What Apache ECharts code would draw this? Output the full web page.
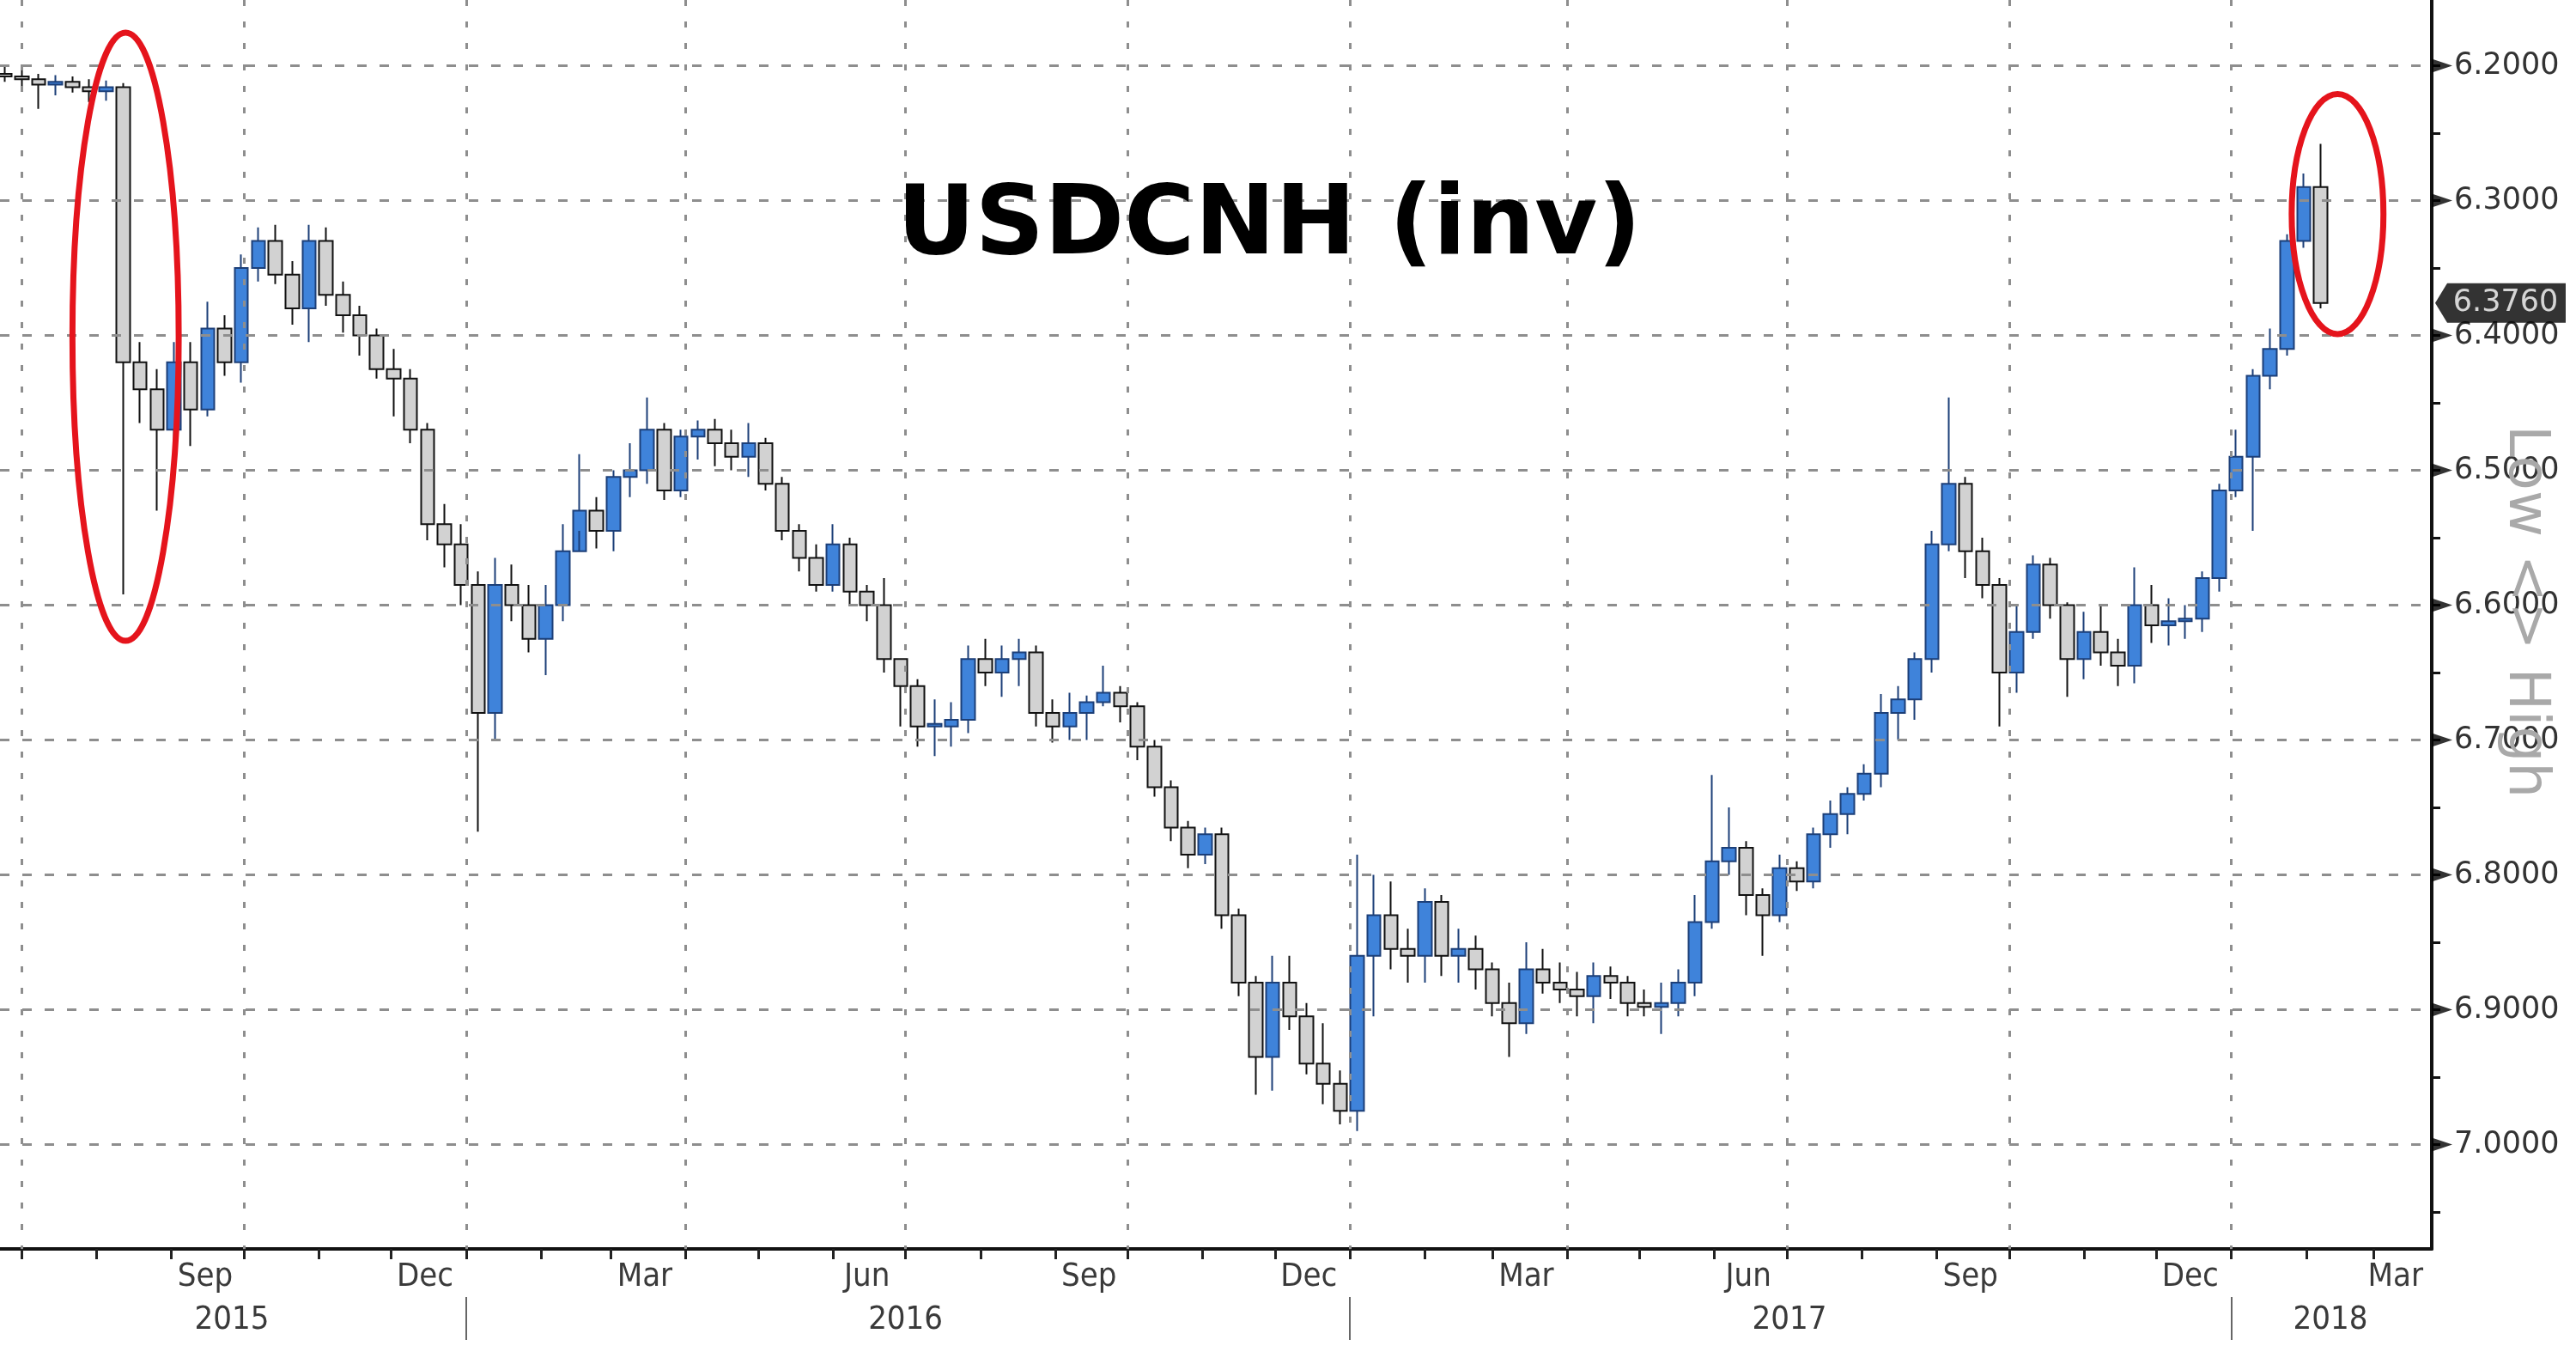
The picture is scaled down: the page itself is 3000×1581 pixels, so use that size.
<!DOCTYPE html>
<html><head><meta charset="utf-8">
<script src="https://cdn.jsdelivr.net/npm/echarts@6/dist/echarts.min.js"></script>
<style>html,body{margin:0;padding:0;background:#fff}#c{width:3000px;height:1581px}</style>
</head><body><div id="c"></div>
<script>
// ---- data (USDCNH weekly OHLC, weeks starting Monday) ----
const firstWeekMonday = '2015-06-22';
const weekOpen = [6.206,6.208,6.210,6.214,6.212,6.216,6.219,6.216,6.420,6.440,
6.470,6.420,6.455,6.395,6.420,6.350,6.330,6.355,6.380,6.330,
6.370,6.385,6.400,6.425,6.432,6.470,6.540,6.555,6.585,6.680,
6.585,6.600,6.625,6.600,6.560,6.530,6.545,6.505,6.500,6.470,
6.515,6.475,6.470,6.480,6.490,6.480,6.510,6.545,6.565,6.585,
6.555,6.590,6.600,6.640,6.660,6.690,6.690,6.685,6.640,6.650,
6.640,6.635,6.680,6.690,6.680,6.672,6.665,6.675,6.705,6.735,
6.765,6.785,6.770,6.830,6.880,6.935,6.880,6.905,6.940,6.955,
6.975,6.860,6.830,6.855,6.860,6.820,6.860,6.855,6.870,6.895,
6.910,6.870,6.880,6.885,6.890,6.875,6.880,6.895,6.898,6.895,
6.880,6.835,6.790,6.780,6.815,6.830,6.795,6.805,6.770,6.755,
6.740,6.725,6.680,6.670,6.640,6.555,6.510,6.560,6.585,6.650,
6.620,6.570,6.600,6.640,6.620,6.635,6.645,6.600,6.615,6.612,
6.610,6.580,6.515,6.490,6.430,6.410,6.330,6.290];
const weekClose = [6.208,6.210,6.214,6.212,6.216,6.219,6.216,6.420,6.440,6.470,
6.420,6.455,6.395,6.420,6.350,6.330,6.355,6.380,6.330,6.370,
6.385,6.400,6.425,6.432,6.470,6.540,6.555,6.585,6.680,6.585,
6.600,6.625,6.600,6.560,6.530,6.545,6.505,6.500,6.470,6.515,
6.475,6.470,6.480,6.490,6.480,6.510,6.545,6.565,6.585,6.555,
6.590,6.600,6.640,6.660,6.690,6.688,6.685,6.640,6.650,6.640,
6.635,6.680,6.690,6.680,6.672,6.665,6.675,6.705,6.735,6.765,
6.785,6.770,6.830,6.880,6.935,6.880,6.905,6.940,6.955,6.975,
6.860,6.830,6.855,6.860,6.820,6.860,6.855,6.870,6.895,6.910,
6.870,6.880,6.885,6.890,6.875,6.880,6.895,6.898,6.895,6.880,
6.835,6.790,6.780,6.815,6.830,6.795,6.805,6.770,6.755,6.740,
6.725,6.680,6.670,6.640,6.555,6.510,6.560,6.585,6.650,6.620,
6.570,6.600,6.640,6.620,6.635,6.645,6.600,6.615,6.612,6.610,
6.580,6.515,6.490,6.430,6.410,6.330,6.290,6.376];
const weekLow = [6.201,6.203,6.206,6.207,6.208,6.210,6.211,6.213,6.405,6.425,
6.405,6.405,6.375,6.385,6.340,6.320,6.318,6.345,6.318,6.320,
6.360,6.378,6.395,6.410,6.425,6.465,6.525,6.540,6.575,6.565,
6.570,6.585,6.585,6.540,6.488,6.520,6.500,6.480,6.446,6.465,
6.470,6.463,6.462,6.470,6.465,6.476,6.505,6.540,6.555,6.540,
6.550,6.585,6.580,6.640,6.655,6.670,6.672,6.630,6.625,6.630,
6.625,6.630,6.670,6.665,6.667,6.645,6.660,6.672,6.700,6.730,
6.760,6.765,6.765,6.825,6.875,6.860,6.860,6.895,6.910,6.945,
6.785,6.800,6.805,6.840,6.810,6.815,6.840,6.845,6.865,6.880,
6.850,6.855,6.865,6.872,6.865,6.868,6.875,6.885,6.880,6.870,
6.815,6.726,6.750,6.775,6.810,6.785,6.790,6.765,6.745,6.735,
6.718,6.666,6.660,6.635,6.545,6.446,6.505,6.550,6.580,6.600,
6.563,6.565,6.598,6.605,6.600,6.625,6.572,6.585,6.595,6.600,
6.575,6.510,6.470,6.425,6.395,6.325,6.280,6.258];
const weekHigh = [6.212,6.216,6.232,6.222,6.220,6.227,6.226,6.592,6.465,6.530,
6.485,6.482,6.460,6.430,6.435,6.360,6.362,6.392,6.405,6.378,
6.398,6.415,6.432,6.460,6.480,6.552,6.572,6.600,6.768,6.700,
6.612,6.635,6.652,6.612,6.545,6.558,6.560,6.520,6.510,6.522,
6.520,6.492,6.497,6.500,6.505,6.515,6.552,6.575,6.590,6.590,
6.600,6.612,6.650,6.690,6.705,6.712,6.705,6.695,6.660,6.668,
6.660,6.690,6.702,6.700,6.700,6.675,6.687,6.715,6.742,6.775,
6.795,6.792,6.840,6.890,6.963,6.960,6.915,6.948,6.970,6.985,
6.990,6.905,6.870,6.880,6.880,6.875,6.880,6.885,6.905,6.935,
6.918,6.888,6.895,6.905,6.910,6.892,6.905,6.905,6.918,6.905,
6.890,6.840,6.800,6.830,6.860,6.835,6.812,6.810,6.780,6.770,
6.745,6.735,6.700,6.685,6.650,6.560,6.580,6.595,6.690,6.665,
6.625,6.610,6.668,6.655,6.645,6.660,6.658,6.628,6.630,6.625,
6.620,6.590,6.520,6.545,6.440,6.415,6.335,6.380];

const yTicks = [6.2,6.3,6.4,6.5,6.6,6.7,6.8,6.9,7.0];
const yMinorTicks = [6.2,6.25,6.3,6.35,6.4,6.45,6.5,6.55,6.6,6.65,6.7,6.75,6.8,6.85,6.9,6.95,7.0,7.05];
const quarterStarts = ['2015-07-01','2015-10-01','2016-01-01','2016-04-01','2016-07-01','2016-10-01','2017-01-01','2017-04-01','2017-07-01','2017-10-01','2018-01-01'];
const monthLabels = [['2015-09-15','Sep'],['2015-12-15','Dec'],['2016-03-15','Mar'],['2016-06-15','Jun'],['2016-09-15','Sep'],['2016-12-15','Dec'],['2017-03-15','Mar'],['2017-06-15','Jun'],['2017-09-15','Sep'],['2017-12-15','Dec'],['2018-03-10','Mar']];
const yearLabels = [['2015-09-26','2015'],['2016-07-01','2016'],['2017-07-02','2017'],['2018-02-11','2018']];
const yearBreaks = ['2016-01-01','2017-01-01','2018-01-01'];
const xStart = '2015-06-22', xEnd = '2018-03-25';
const yTop = 6.1513, yBottom = 7.0774;
const titleText = 'USDCNH (inv)';

// ---- helpers ----
function ts(s, addDays) {
  const p = s.split('-').map(Number);
  return new Date(p[0], p[1]-1, p[2] + (addDays||0)).getTime();
}
const xMin = ts(xStart), xMax = ts(xEnd);
const candles = weekOpen.map((o,i) => [ts(firstWeekMonday, 7*i + 2), o, weekClose[i], weekLow[i], weekHigh[i]]);
const monthTicks = [];
for (let y = 2015, m = 6; y < 2018 || (y === 2018 && m <= 2); ) {
  monthTicks.push(new Date(y, m, 1).getTime());
  m++; if (m > 11) { m = 0; y++; }
}
const monthMap = {}; monthLabels.forEach(d => monthMap[ts(d[0])] = d[1]);
const yearMap = {}; yearLabels.forEach(d => yearMap[ts(d[0])] = d[1]);
const lastClose = weekClose[weekClose.length-1];

const chart = echarts.init(document.getElementById('c'));
const gridColor = '#8e8e8e';
chart.setOption({
  animation: false,
  backgroundColor: '#ffffff',
  grid: {left: 0, right: 168, top: 0, bottom: 127},
  xAxis: [{
    type: 'value', min: xMin, max: xMax, position: 'bottom', scale: true,
    axisLine: {show: true, onZero: false, lineStyle: {color: '#111', width: 4}},
    axisTick: {show: true, customValues: monthTicks, length: 12, lineStyle: {color: '#222', width: 3}},
    axisLabel: {show: true, customValues: monthLabels.map(d => ts(d[0])), formatter: v => monthMap[v] || '',
      fontSize: 38, color: '#3a3a3a', fontFamily: 'DejaVu Sans Condensed', margin: 14},
    splitLine: {show: false}
  }, {
    type: 'value', min: xMin, max: xMax, position: 'bottom', offset: 56, scale: true,
    axisLine: {show: false, onZero: false},
    axisTick: {show: true, customValues: yearBreaks.map(d => ts(d)), length: 50, lineStyle: {color: '#666', width: 2}},
    axisLabel: {show: true, customValues: yearLabels.map(d => ts(d[0])), formatter: v => yearMap[v] || '',
      fontSize: 38, color: '#3a3a3a', fontFamily: 'DejaVu Sans Condensed', margin: 8},
    splitLine: {show: false}
  }],
  yAxis: {
    type: 'value', position: 'right', inverse: true, min: yTop, max: yBottom, scale: true,
    axisLine: {show: true, onZero: false, lineStyle: {color: '#111', width: 4}},
    axisTick: {show: true, customValues: yMinorTicks, length: 10, lineStyle: {color: '#111', width: 3}},
    axisLabel: {show: true, customValues: yTicks, formatter: v => v.toFixed(4), fontSize: 35, color: '#333',
      fontFamily: 'DejaVu Sans', margin: 26},
    splitLine: {show: false}
  },
  series: [{
    type: 'line', data: [], silent: true, z: 1,
    markLine: {silent: true, symbol: ['none','none'], label: {show: false}, animation: false,
      lineStyle: {color: gridColor, width: 3, type: [7, 18]},
      data: quarterStarts.map(d => ({xAxis: ts(d)}))}
  }, {
    type: 'line', data: [], silent: true, z: 1,
    markLine: {silent: true, symbol: ['none','none'], label: {show: false}, animation: false,
      lineStyle: {color: gridColor, width: 3, type: [11, 15]},
      data: yTicks.map(v => ({yAxis: v}))}
  }, {
    type: 'candlestick', data: candles, encode: {x: 0, y: [1,2,3,4]}, barWidth: 16, z: 3,
    itemStyle: {color: '#d2d2d2', color0: '#3f83da', borderColor: '#111', borderColor0: '#1c3f78', borderWidth: 2}
  }, {
    type: 'scatter', data: yTicks.map(v => [xMax, v]), clip: false, silent: true, z: 5,
    symbol: 'triangle', symbolSize: [16, 24], symbolRotate: -90, symbolOffset: [12, 0],
    itemStyle: {color: '#000'}
  }, {
    type: 'scatter', data: [[xMax, lastClose]], clip: false, silent: true, z: 6,
    symbol: 'path://M0,23 L14,0 L152,0 L152,46 L14,46 Z', symbolSize: [152, 46], symbolOffset: [80, 0],
    itemStyle: {color: '#000'},
    label: {show: true, position: 'inside', formatter: () => lastClose.toFixed(4), color: '#fff', fontSize: 35,
      fontFamily: 'DejaVu Sans', offset: [6, 0]}
  }]
});

function ellipse(id, date, v, days, dv) {
  const c = chart.convertToPixel({seriesIndex: 2}, [ts(date), v]);
  const e = chart.convertToPixel({seriesIndex: 2}, [ts(date, days), v + dv]);
  return {id: id, type: 'ellipse', z: 100, silent: true,
    shape: {cx: c[0], cy: c[1], rx: Math.abs(e[0]-c[0]), ry: Math.abs(e[1]-c[1])},
    style: {fill: 'none', stroke: '#e5141c', lineWidth: 7}};
}
chart.setOption({graphic: [
  {id: 'title', type: 'text', x: 1478, y: 266, z: 50, silent: true,
    style: {text: titleText, fontSize: 112, fontWeight: 'bold', fontFamily: 'DejaVu Sans', fill: '#000', align: 'center', verticalAlign: 'middle'}},
  {id: 'lowhigh', type: 'text', x: 2940, y: 712, rotation: -Math.PI/2, z: 50, silent: true,
    style: {text: 'Low <> High', fontSize: 66, fontFamily: 'DejaVu Sans', fill: '#a9a9a9', align: 'center', verticalAlign: 'middle'}},
  ellipse('e1', '2015-08-13', 6.401, 22, 0.2255),
  ellipse('e2', '2018-02-14', 6.31, 19.6, 0.089)
]});
</script>
</body></html>
